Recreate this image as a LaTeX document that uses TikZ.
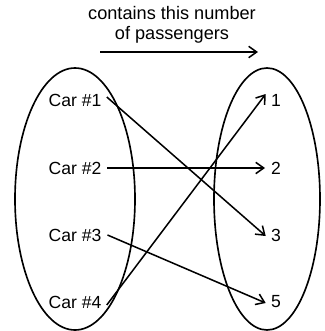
\documentclass[tikz,border=0pt]{standalone}
\usepackage{fontspec}
\setmainfont{Liberation Sans}
\usetikzlibrary{arrows.meta}

\begin{document}
\begin{tikzpicture}[x=0.03cm, y=-0.03cm, font=\fontsize{15}{16}\selectfont,
  set/.style={line width=1.4pt},
  car/.style={inner sep=1pt},
  num/.style={inner sep=1pt},
  maps/.style={line width=1.3pt, -{Straight Barb[length=2.4mm, width=3.4mm, line width=1.3pt]}},
  title/.style={align=center, font=\fontsize{15.5}{17}\selectfont}]
\useasboundingbox (0,0) rectangle (324,331);
\node[title] (ttl) at (172,25) {contains this number\\of passengers};
\coordinate (ta) at (100,52);
\coordinate (tb) at (258,52);
\draw[maps, line width=1pt] (ta) -- (tb);
% the two sets
\draw[set] (75,199) ellipse [x radius=60, y radius=131];
\draw[set] (267,199) ellipse [x radius=53, y radius=131];
\foreach \i/\y in {1/100,2/168,3/235,4/302}
  \node[car] (c\i) at (75,\y) {Car \#\i};
\foreach \n/\y in {1/100,2/168,3/235,5/302}
  \node[num] (n\n) at (276,\y) {\n};
% who goes where
\draw[maps] ([shift={(4,-3)}]c1.east) -- ([shift={(-4,1)}]n3.west);
\draw[maps] ([xshift=4]c2.east) -- ([xshift=-4]n2.west);
\draw[maps] ([xshift=4]c3.east) -- ([shift={(-4,1)}]n5.west);
\draw[maps] ([shift={(4,3)}]c4.east) -- ([shift={(-4,-6)}]n1.west);
\end{tikzpicture}
\end{document}
